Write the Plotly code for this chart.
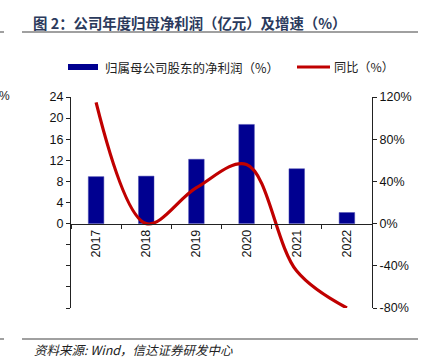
import plotly.graph_objects as go

years = ["2017", "2018", "2019", "2020", "2021", "2022"]
profit = [8.9, 9.0, 12.2, 18.8, 10.4, 2.1]          # 亿元
growth = [115, 0, 34, 56, -45, -80]                  # %

left_ticks = [-16, -12, -8, -4, 0, 4, 8, 12, 16, 20, 24]
left_labels = ["", "", "", "", "0", "4", "8", "12", "16", "20", "24"]
right_ticks = [-80, -40, 0, 40, 80, 120]
right_labels = ["-80%", "-40%", "0%", "40%", "80%", "120%"]

BLUE = "#000090"
RED = "#C00000"
W, H = 430, 363
L, R, T, B = 71, 58, 97, 55

fig = go.Figure()
fig.add_trace(go.Bar(x=years, y=profit, marker=dict(color=BLUE, line=dict(width=0.5, color="#4a4ab0")),
                     width=0.31, name="归属母公司股东的净利润（%）", showlegend=False))
fig.add_trace(go.Scatter(x=years, y=growth, yaxis="y2", mode="lines",
                         line=dict(color=RED, width=3.2, shape="spline", smoothing=1.0),
                         name="同比（%）", showlegend=False))

tickfont = dict(family="Liberation Sans, Arial", size=12.5, color="#111")
fig.update_layout(
    width=W, height=H, margin=dict(l=L, r=R, t=T, b=B),
    paper_bgcolor="white", plot_bgcolor="white",
    xaxis=dict(type="category", anchor="free", position=0.4, showline=True, linecolor="#222", linewidth=1.2,
               ticks="outside", tickson="boundaries", ticklen=4, tickcolor="#222", tickangle=-90,
               tickfont=tickfont, showgrid=False, zeroline=False),
    yaxis=dict(range=[-16, 24], tickvals=left_ticks, ticktext=left_labels, showline=True, linecolor="#222",
               linewidth=1.2, ticks="outside", ticklen=4, tickcolor="#222", tickfont=tickfont,
               showgrid=False, zeroline=False),
    yaxis2=dict(range=[-80, 120], tickvals=right_ticks, ticktext=right_labels, overlaying="y", side="right",
                showline=True, linecolor="#222", linewidth=1.2, ticks="outside", ticklen=4, tickcolor="#222",
                tickfont=tickfont, showgrid=False, zeroline=False),
)

def px(x):
    return (x - L) / (W - L - R)

def py(y):
    return (H - B - y) / (H - T - B)

shapes = []
for y0 in (32, 339):
    shapes.append(dict(type="line", xref="paper", yref="paper", x0=px(22), x1=px(418), y0=py(y0), y1=py(y0),
                       line=dict(color="#808080", width=1.5)))
    shapes.append(dict(type="line", xref="paper", yref="paper", x0=px(0), x1=px(4), y0=py(y0), y1=py(y0),
                       line=dict(color="#808080", width=1.5)))
# legend symbols
shapes.append(dict(type="rect", xref="paper", yref="paper", x0=px(68), x1=px(98), y0=py(70), y1=py(64),
                   fillcolor=BLUE, line=dict(width=0)))
shapes.append(dict(type="line", xref="paper", yref="paper", x0=px(297), x1=px(330), y0=py(67), y1=py(67),
                   line=dict(color=RED, width=3.2)))
fig.update_layout(shapes=shapes)

cjk = "Noto Sans CJK SC"
ann = [
    dict(text="<b>图 2：公司年度归母净利润（亿元）及增速（%）</b>", x=px(31), y=py(22), xanchor="left", yanchor="middle",
         font=dict(family=cjk, size=14.4, color="#2B3A5C")),
    dict(text="归属母公司股东的净利润（%）", x=px(103), y=py(67), xanchor="left", yanchor="middle",
         font=dict(family=cjk, size=12.5, color="#222")),
    dict(text="同比（%）", x=px(332), y=py(67), xanchor="left", yanchor="middle",
         font=dict(family=cjk, size=12.2, color="#222")),
    dict(text="<i>资料来源: Wind，信达证券研发中心</i>", x=px(32), y=py(349), xanchor="left", yanchor="middle",
         font=dict(family=cjk, size=12.5, color="#222")),
    dict(text="%", x=px(-3), y=py(96), xanchor="left", yanchor="middle",
         font=dict(family="Liberation Sans", size=12, color="#222")),
]
for a in ann:
    a.update(xref="paper", yref="paper", showarrow=False)
fig.update_layout(annotations=ann)

fig.write_html("out.html", config={"displayModeBar": False},
               post_script="document.body.style.margin='0';document.body.style.overflow='hidden';")
